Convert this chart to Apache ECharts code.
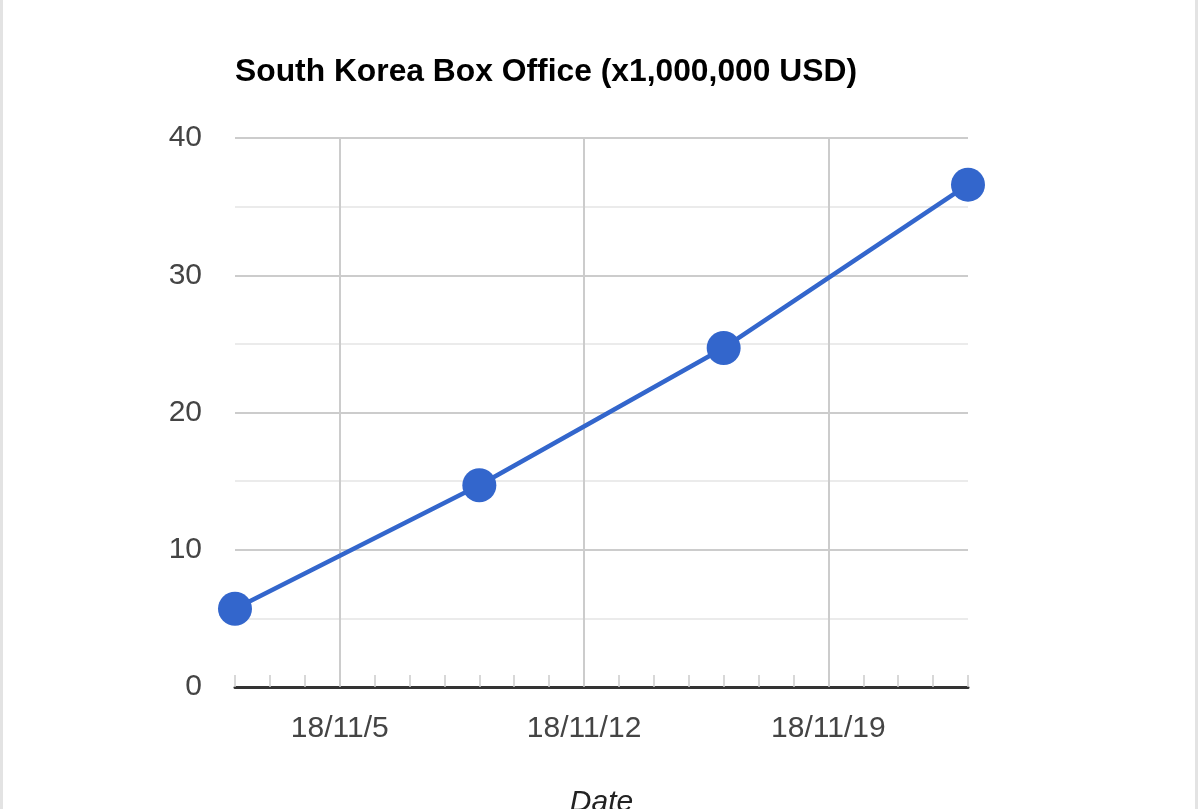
<!DOCTYPE html>
<html>
<head>
<meta charset="utf-8">
<script src="https://cdn.jsdelivr.net/npm/echarts@6/dist/echarts.min.js"></script>
<style>
  html, body { margin: 0; padding: 0; background: #fff; }
  #wrap { position: relative; width: 1200px; height: 809px; overflow: hidden; }
  #chart { position: absolute; left: 0; top: 0; width: 1200px; height: 809px; }
  .edge { position: absolute; top: 0; width: 3px; height: 809px; background: #e3e3e3; }
</style>
</head>
<body>
<div id="wrap">
  <div id="chart"></div>
  <div class="edge" style="left:0"></div>
  <div class="edge" style="left:1195px"></div>
</div>
<script>
// ---- data ----
const titleText = 'South Korea Box Office (x1,000,000 USD)';
const xAxisTitle = 'Date';
const dates = ['2018-11-02', '2018-11-09', '2018-11-16', '2018-11-23'];
const boxOffice = [5.7, 14.7, 24.7, 36.6];
const xLabelDates = ['2018-11-05', '2018-11-12', '2018-11-19'];
const xRange = ['2018-11-02', '2018-11-23'];
const yTicks = [0, 10, 20, 30, 40];

// ---- helpers ----
const DAY = 86400000;
function toMs(s) {
  const p = s.split('-').map(Number);
  return Date.UTC(p[0], p[1] - 1, p[2]);
}
function fmt(ms) {
  const d = new Date(ms);
  return String(d.getUTCFullYear()).slice(2) + '/' + (d.getUTCMonth() + 1) + '/' + d.getUTCDate();
}
const xMin = toMs(xRange[0]);
const xMax = toMs(xRange[1]);
const labelVals = xLabelDates.map(toMs);
const seriesData = dates.map((d, i) => [toMs(d), boxOffice[i]]);

const FONT = '"Liberation Sans", Arial, sans-serif';
const chart = echarts.init(document.getElementById('chart'), null, { renderer: 'canvas' });

chart.setOption({
  backgroundColor: '#ffffff',
  animation: false,
  title: {
    text: titleText,
    left: 230,
    top: 51,
    textStyle: { fontFamily: FONT, fontSize: 31.8, fontWeight: 'bold', color: '#000' }
  },
  grid: { left: 235, right: 232, top: 138, bottom: 122, containLabel: false, outerBoundsMode: 'none' },
  xAxis: [
    {
      // daily minor ticks + baseline
      type: 'value',
      position: 'bottom',
      min: xMin,
      max: xMax,
      interval: DAY,
      axisLine: { show: true, onZero: false, lineStyle: { color: '#333', width: 3 } },
      axisTick: { show: true, inside: true, length: 12, lineStyle: { color: '#cccccc', width: 1.5 } },
      axisLabel: { show: false },
      splitLine: { show: false },
      z: 5
    },
    {
      // weekly labels + vertical gridlines
      type: 'value',
      position: 'bottom',
      min: xMin,
      max: xMax,
      axisLine: { show: false, onZero: false },
      axisTick: { show: false, customValues: labelVals },
      axisLabel: {
        show: true,
        customValues: labelVals,
        margin: 27,
        formatter: v => fmt(v),
        fontFamily: FONT, fontSize: 30, color: '#444'
      },
      splitLine: { show: true, lineStyle: { color: '#cccccc', width: 2 } },
      name: xAxisTitle,
      nameLocation: 'middle',
      nameGap: 101,
      nameTextStyle: { fontFamily: FONT, fontSize: 30, fontStyle: 'italic', color: '#222' }
    }
  ],
  yAxis: {
    type: 'value',
    min: yTicks[0],
    max: yTicks[yTicks.length - 1],
    interval: yTicks[1] - yTicks[0],
    axisLine: { show: false },
    axisTick: { show: false },
    axisLabel: { margin: 33, padding: [4, 0, 0, 0], fontFamily: FONT, fontSize: 30, color: '#444' },
    splitLine: { show: true, lineStyle: { color: '#cccccc', width: 2 } },
    minorTick: { show: false, splitNumber: 2 },
    minorSplitLine: { show: true, lineStyle: { color: '#ebebeb', width: 2 } }
  },
  series: [{
    type: 'line',
    xAxisIndex: 0,
    data: seriesData,
    symbol: 'circle',
    symbolSize: 34,
    showSymbol: true,
    lineStyle: { color: '#3366cc', width: 4.5 },
    itemStyle: { color: '#3366cc' },
    z: 10
  }]
});
</script>
</body>
</html>
